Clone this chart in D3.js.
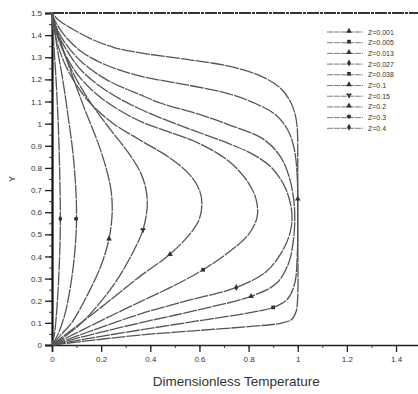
<!DOCTYPE html>
<html>
<head>
<meta charset="utf-8">
<script src="https://cdn.jsdelivr.net/npm/d3@7"></script>
<style>
  html, body { margin: 0; padding: 0; background: #fff; }
  svg { display: block; }
  text { font-family: "Liberation Sans", Arial, sans-serif; fill: #333; }
</style>
</head>
<body>
<svg id="chart" width="418" height="394"></svg>
<script>
// Axial position of each temperature profile
const zLabels = ["Z=0.001", "Z=0.005", "Z=0.013", "Z=0.027", "Z=0.038",
                 "Z=0.1", "Z=0.15", "Z=0.2", "Z=0.3", "Z=0.4"];

// Profiles as [dimensionless temperature, Y] pairs
const profileZ0001 = [[0,0],[0.1,0.013],[0.2,0.026],[0.358,0.045],[0.6,0.066],[0.82,0.085],[0.93,0.098],[0.975,0.115],[0.993,0.15],[1.0,0.22],[1.0,0.5],[1.0,0.8],[0.998,0.98],[0.99,1.04],[0.97,1.1],[0.93,1.16],[0.85,1.215],[0.72,1.26],[0.55,1.29],[0.36,1.32],[0.25,1.345],[0.155,1.385],[0.08,1.43],[0.025,1.47],[0,1.5]];
const profileZ0005 = [[0,0],[0.1,0.02],[0.2,0.039],[0.358,0.068],[0.6,0.11],[0.8,0.145],[0.9,0.17],[0.96,0.21],[0.988,0.28],[0.998,0.4],[1.0,0.6],[0.997,0.78],[0.985,0.89],[0.96,0.97],[0.91,1.04],[0.83,1.09],[0.72,1.135],[0.55,1.175],[0.36,1.215],[0.22,1.265],[0.12,1.325],[0.05,1.4],[0.012,1.465],[0,1.5]];
const profileZ0013 = [[0,0],[0.1,0.03],[0.2,0.058],[0.358,0.1],[0.6,0.16],[0.81,0.22],[0.915,0.28],[0.963,0.37],[0.983,0.48],[0.988,0.58],[0.982,0.67],[0.965,0.76],[0.93,0.85],[0.86,0.93],[0.72,0.995],[0.59,1.045],[0.45,1.09],[0.36,1.13],[0.22,1.2],[0.12,1.28],[0.05,1.37],[0.012,1.45],[0,1.5]];
const profileZ0027 = [[0,0],[0.1,0.04],[0.2,0.08],[0.358,0.14],[0.55,0.2],[0.75,0.26],[0.87,0.33],[0.935,0.42],[0.967,0.5],[0.977,0.57],[0.97,0.64],[0.945,0.72],[0.895,0.8],[0.82,0.86],[0.72,0.91],[0.55,0.98],[0.36,1.065],[0.22,1.15],[0.12,1.24],[0.05,1.35],[0.012,1.44],[0,1.5]];
const profileZ0038 = [[0,0],[0.1,0.055],[0.2,0.11],[0.358,0.195],[0.5,0.27],[0.615,0.34],[0.72,0.42],[0.8,0.5],[0.835,0.58],[0.83,0.66],[0.795,0.74],[0.72,0.83],[0.6,0.91],[0.47,0.965],[0.36,1.01],[0.22,1.1],[0.12,1.2],[0.05,1.32],[0.012,1.43],[0,1.5]];
const profileZ01 = [[0,0],[0.1,0.085],[0.2,0.17],[0.358,0.31],[0.48,0.41],[0.56,0.5],[0.6,0.57],[0.61,0.64],[0.6,0.7],[0.56,0.77],[0.48,0.845],[0.36,0.925],[0.25,1.0],[0.15,1.1],[0.07,1.23],[0.02,1.37],[0,1.5]];
const profileZ015 = [[0,0],[0.06,0.045],[0.13,0.11],[0.25,0.27],[0.33,0.42],[0.37,0.52],[0.387,0.62],[0.383,0.7],[0.36,0.78],[0.31,0.87],[0.24,0.97],[0.16,1.09],[0.09,1.22],[0.035,1.36],[0,1.5]];
const profileZ02 = [[0,0],[0.04,0.05],[0.08,0.1],[0.155,0.25],[0.2,0.36],[0.232,0.48],[0.245,0.6],[0.24,0.7],[0.22,0.8],[0.185,0.92],[0.135,1.06],[0.085,1.21],[0.035,1.37],[0,1.5]];
const profileZ03 = [[0,0],[0.025,0.05],[0.055,0.15],[0.08,0.3],[0.095,0.45],[0.1,0.58],[0.096,0.72],[0.085,0.87],[0.066,1.03],[0.045,1.19],[0.02,1.35],[0,1.5]];
const profileZ04 = [[0,0],[0.01,0.05],[0.022,0.2],[0.031,0.4],[0.034,0.57],[0.032,0.75],[0.027,0.95],[0.019,1.15],[0.009,1.33],[0,1.5]];

// One symbol per profile, placed on the curve
const markerPoints = [[1.0,0.66],[0.9,0.17],[0.81,0.22],[0.75,0.26],[0.615,0.34],[0.48,0.41],[0.37,0.52],[0.232,0.48],[0.098,0.57],[0.034,0.57]];

// Upper wall of the channel
const upperWall = [[0,1.5],[1.5,1.5]];

const xTicks = [0, 0.2, 0.4, 0.6, 0.8, 1, 1.2, 1.4];
const yTicks = [0, 0.1, 0.2, 0.3, 0.4, 0.5, 0.6, 0.7, 0.8, 0.9, 1, 1.1, 1.2, 1.3, 1.4, 1.5];

const profiles = [profileZ0001, profileZ0005, profileZ0013, profileZ0027, profileZ0038,
                  profileZ01, profileZ015, profileZ02, profileZ03, profileZ04];

const symbolTypes = [d3.symbolTriangle, d3.symbolSquare, d3.symbolTriangle, d3.symbolDiamond,
                     d3.symbolSquare, d3.symbolTriangle, d3.symbolWye, d3.symbolTriangle,
                     d3.symbolCircle, d3.symbolDiamond];

const svg = d3.select("#chart");
const x = d3.scaleLinear().domain([0, 1.5]).range([52, 420.6]);
const y = d3.scaleLinear().domain([0, 1.5]).range([345, 13]);

const fmt = d => (d === 0 ? "0" : d === 1 ? "1" : d3.format(".1f")(d));

// Minor ticks
svg.append("g")
  .attr("transform", `translate(${x(0)},0)`)
  .call(d3.axisLeft(y).tickValues(d3.range(0, 1.501, 0.05)).tickSize(3).tickFormat(""))
  .call(g => g.select(".domain").remove())
  .call(g => g.selectAll("line").attr("stroke", "#444"));
svg.append("g")
  .attr("transform", `translate(0,${y(0)})`)
  .call(d3.axisBottom(x).tickValues(d3.range(0, 1.501, 0.1)).tickSize(3).tickFormat(""))
  .call(g => g.select(".domain").remove())
  .call(g => g.selectAll("line").attr("stroke", "#444"));

// Major axes
const yAxis = svg.append("g")
  .attr("transform", `translate(${x(0)},0)`)
  .call(d3.axisLeft(y).tickValues(yTicks).tickSize(7).tickPadding(3).tickFormat(fmt));
yAxis.select(".domain").attr("stroke", "#111").attr("stroke-width", 2.2);
yAxis.selectAll("line").attr("stroke", "#222").attr("stroke-width", 1.3);
yAxis.selectAll("text").attr("font-size", 8).attr("fill", "#333")
  .attr("font-family", "'Liberation Sans', Arial, sans-serif");

const xAxis = svg.append("g")
  .attr("transform", `translate(0,${y(0)})`)
  .call(d3.axisBottom(x).tickValues(xTicks).tickSize(7).tickPadding(4).tickFormat(fmt));
xAxis.select(".domain").attr("stroke", "#222").attr("stroke-width", 1.6);
xAxis.selectAll("line").attr("stroke", "#222").attr("stroke-width", 1.3);
xAxis.selectAll("text").attr("font-size", 8).attr("fill", "#333")
  .attr("font-family", "'Liberation Sans', Arial, sans-serif");

const line = d3.line()
  .x(d => x(d[0]))
  .y(d => y(d[1]))
  .curve(d3.curveCatmullRom.alpha(0.5));

// Upper wall
svg.append("path")
  .datum(upperWall)
  .attr("d", d3.line().x(d => x(d[0])).y(d => y(d[1])))
  .attr("fill", "none")
  .attr("stroke", "#333")
  .attr("stroke-width", 1.8)
  .attr("stroke-dasharray", "12,1,3,1");

// Temperature profiles
svg.append("g")
  .selectAll("path")
  .data(profiles)
  .join("path")
  .attr("d", line)
  .attr("fill", "none")
  .attr("stroke", "#555")
  .attr("stroke-width", 1.3)
  .attr("stroke-dasharray", "14,1");

// Symbols on profiles
svg.append("g")
  .selectAll("path")
  .data(markerPoints)
  .join("path")
  .attr("transform", d => `translate(${x(d[0])},${y(d[1])})`)
  .attr("d", (d, i) => d3.symbol().type(symbolTypes[i]).size(14)())
  .attr("fill", "#333");

// Legend
const legend = svg.append("g").attr("transform", "translate(327,32)");
const rows = legend.selectAll("g")
  .data(zLabels)
  .join("g")
  .attr("transform", (d, i) => `translate(0,${i * 10.7})`);
rows.append("line")
  .attr("x1", 0).attr("x2", 36).attr("y1", 0).attr("y2", 0)
  .attr("stroke", "#777").attr("stroke-width", 1)
  .attr("stroke-dasharray", "6,1");
rows.append("path")
  .attr("transform", "translate(22,-1)")
  .attr("d", (d, i) => d3.symbol().type(symbolTypes[i]).size(14)())
  .attr("fill", "#333");
rows.append("text")
  .attr("x", 41).attr("y", 2.5)
  .attr("font-size", 7)
  .attr("fill", "#333")
  .text(d => d);

// Axis titles
svg.append("text")
  .attr("x", x(0.75)).attr("y", 386)
  .attr("text-anchor", "middle")
  .attr("font-size", 13.5)
  .attr("fill", "#333")
  .text("Dimensionless Temperature");

svg.append("text")
  .attr("transform", `translate(15,${y(0.75)}) rotate(-90)`)
  .attr("text-anchor", "middle")
  .attr("font-size", 9)
  .attr("fill", "#555")
  .text("Y");
</script>
</body>
</html>
